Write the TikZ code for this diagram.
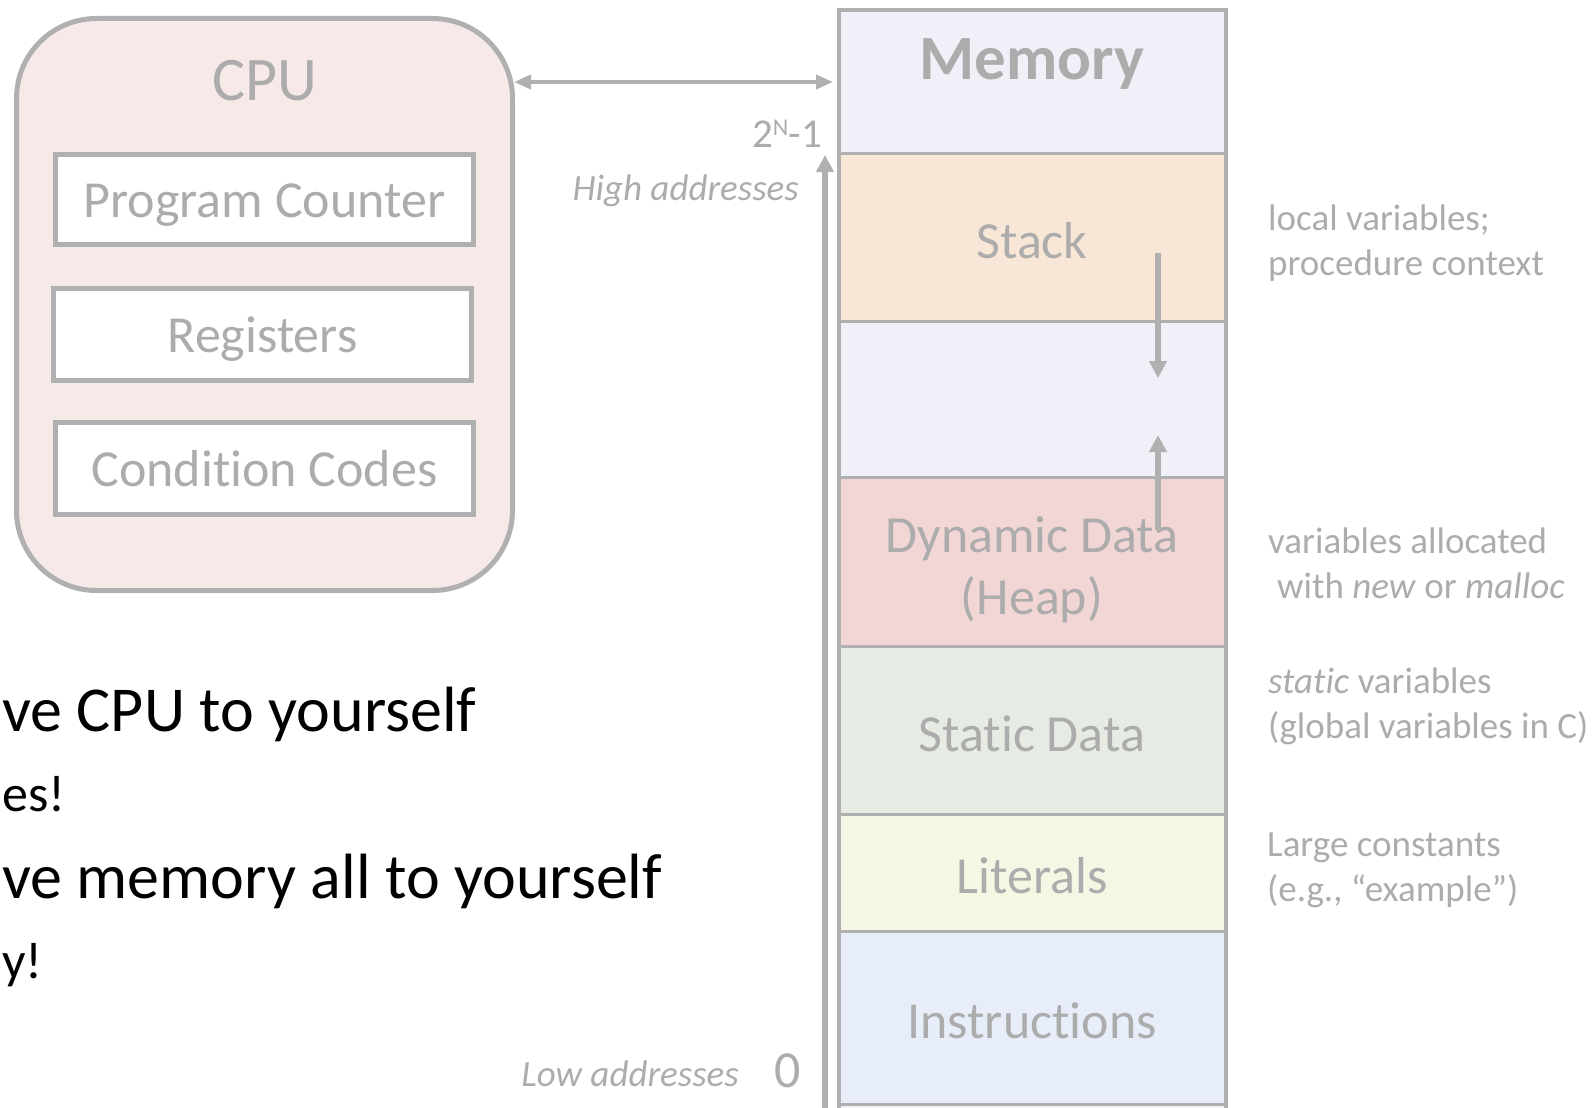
\documentclass[tikz,border=0pt]{standalone}
\usepackage{fontspec}
\setmainfont{Carlito}[Ligatures=NoCommon, RawFeature={-liga;-calt}]
\usetikzlibrary{arrows.meta}
\definecolor{linegray}{RGB}{176,176,176}
\definecolor{textgray}{RGB}{172,172,172}
\definecolor{cpufill}{RGB}{248,233,233}
\definecolor{memfill}{RGB}{240,240,249}
\definecolor{stackfill}{RGB}{248,231,215}
\definecolor{heapfill}{RGB}{242,214,214}
\definecolor{staticfill}{RGB}{230,235,228}
\definecolor{litfill}{RGB}{245,246,228}
\definecolor{instrfill}{RGB}{231,238,250}
\newcommand{\fsz}[1]{\fontsize{#1}{1.2\dimexpr#1pt\relax}\selectfont}
\begin{document}
\begin{tikzpicture}[x=1pt,y=-1pt,
  lbl/.style={text=textgray, inner sep=0pt},
  sec/.style={draw=linegray, line width=2.5pt, minimum width=386pt,
    inner sep=0pt, outer sep=0pt, anchor=north west},
  seclabel/.style={lbl, font=\fsz{52}, align=center},
  regbox/.style={draw=linegray, line width=5pt, fill=white, minimum width=418pt,
    inner sep=0pt, text=textgray, font=\fsz{52}, text height=36pt, text depth=0pt},
  note/.style={lbl, font=\fontsize{37}{45}\selectfont, align=left, anchor=west},
  growtip/.style={draw=linegray, line width=5.5pt, -{Triangle[width=17pt,length=17pt]}},
  say/.style={inner sep=0pt, anchor=base west, text=black},
]
\useasboundingbox (0,0) rectangle (1596,1108);

% ---------- CPU ----------
\node[draw=linegray, line width=5pt, fill=cpufill, rounded corners=80pt,
      minimum width=496pt, minimum height=572pt, inner sep=0pt] (cpu) at (264.5,304.5) {};
\node[lbl, font=\fsz{62}] (cputitle) at (265,81) {CPU};
\node[regbox, minimum height=90pt] (pc)   at (264.5,199.5) {Program Counter};
\node[regbox, minimum height=92pt] (regs) at (262.5,334.5) {Registers};
\node[regbox, minimum height=92pt] (cc)   at (264.5,468.5) {Condition Codes};

% ---------- Memory sections ----------
\node[sec, fill=memfill,    minimum height=143.7pt] (memtop) at (839,10) {};
\node[sec, fill=stackfill,  minimum height=168pt]   (stack)  at (839,153.7) {};
\node[sec, fill=memfill,    minimum height=155.7pt] (gap)    at (839,321.7) {};
\node[sec, fill=heapfill,   minimum height=169pt]   (heap)   at (839,477.4) {};
\node[sec, fill=staticfill, minimum height=167.9pt] (static) at (839,646.4) {};
\node[sec, fill=litfill,    minimum height=117.1pt] (lit)    at (839,814.3) {};
\node[sec, fill=instrfill,  minimum height=173.1pt] (instr)  at (839,931.4) {};
\node[sec, fill=memfill,    minimum height=40pt]    (below)  at (839,1104.5) {};

% outer frame of the memory column
\node[draw=linegray, line width=4pt, minimum width=387pt, minimum height=1120pt,
      inner sep=0pt] (mem) at (1032,570) {};

\node[lbl, font=\fsz{63}\bfseries] (memtitle) at (1032,64) {Memory};
\node[seclabel] at (1032,241) {Stack};
\node[seclabel] at (1032,570) {Dynamic Data\\(Heap)};
\node[seclabel] at (1032,734) {Static Data};
\node[seclabel] at (1032,876) {Literals};
\node[seclabel] at (1032,1021) {Instructions};

% stack grows down, heap grows up
\coordinate (stackfrom) at (1158,253);
\coordinate (stackto)   at (1158,378);
\coordinate (heapfrom)  at (1158,530);
\coordinate (heapto)    at (1158,435);
\draw[growtip] (stackfrom) -- (stackto);
\draw[growtip] (heapfrom) -- (heapto);

% CPU <-> memory bus
\coordinate (busy) at (0,82);
\draw[draw=linegray, line width=4pt,
      {Triangle[width=14pt,length=17pt]}-{Triangle[width=14pt,length=17pt]},
      shorten <=-1pt, shorten >=3.5pt]
  (cpu.east |- busy) -- (mem.west |- busy);

% address axis
\coordinate (axislow)  at (825,1130);
\coordinate (axishigh) at (825,155);
\draw[draw=linegray, line width=6pt, -{Triangle[width=17pt,length=17pt]}] (axislow) -- (axishigh);

\node[lbl, font=\fsz{41}, anchor=east] (topaddr) at (822,134)
  {2\raisebox{12pt}{\fsz{24}N}-1};
\node[lbl, font=\fsz{37}\itshape, anchor=east] (hiaddr) at (799,191) {High addresses};
\node[lbl, font=\fsz{37}\itshape, anchor=east] (loaddr) at (739,1074) {Low addresses};
\node[lbl, font=\fsz{52}] (zero) at (788,1071) {0};

% ---------- notes ----------
\node[note] (n1) at (1268,243) {local variables;\\procedure context};
\node[note] (n2) at (1268,563) {variables allocated\\\hspace*{9pt}with \textit{new} or \textit{malloc}};
\node[note] (n3) at (1268,706) {\textit{static} variables\\(global variables in C)};
\node[note] (n4) at (1267,870) {Large constants\\(e.g., “example”)};

% ---------- left text ----------
\node[say, font=\fsz{64}] (t1) at (2,731) {ve CPU to yourself};
\node[say, font=\fsz{52}] (t2) at (2,811) {es!};
\node[say, font=\fsz{64}] (t3) at (2,898) {ve memory all to yourself};
\node[say, font=\fsz{52}] (t4) at (2,978) {y!};
\end{tikzpicture}
\end{document}
